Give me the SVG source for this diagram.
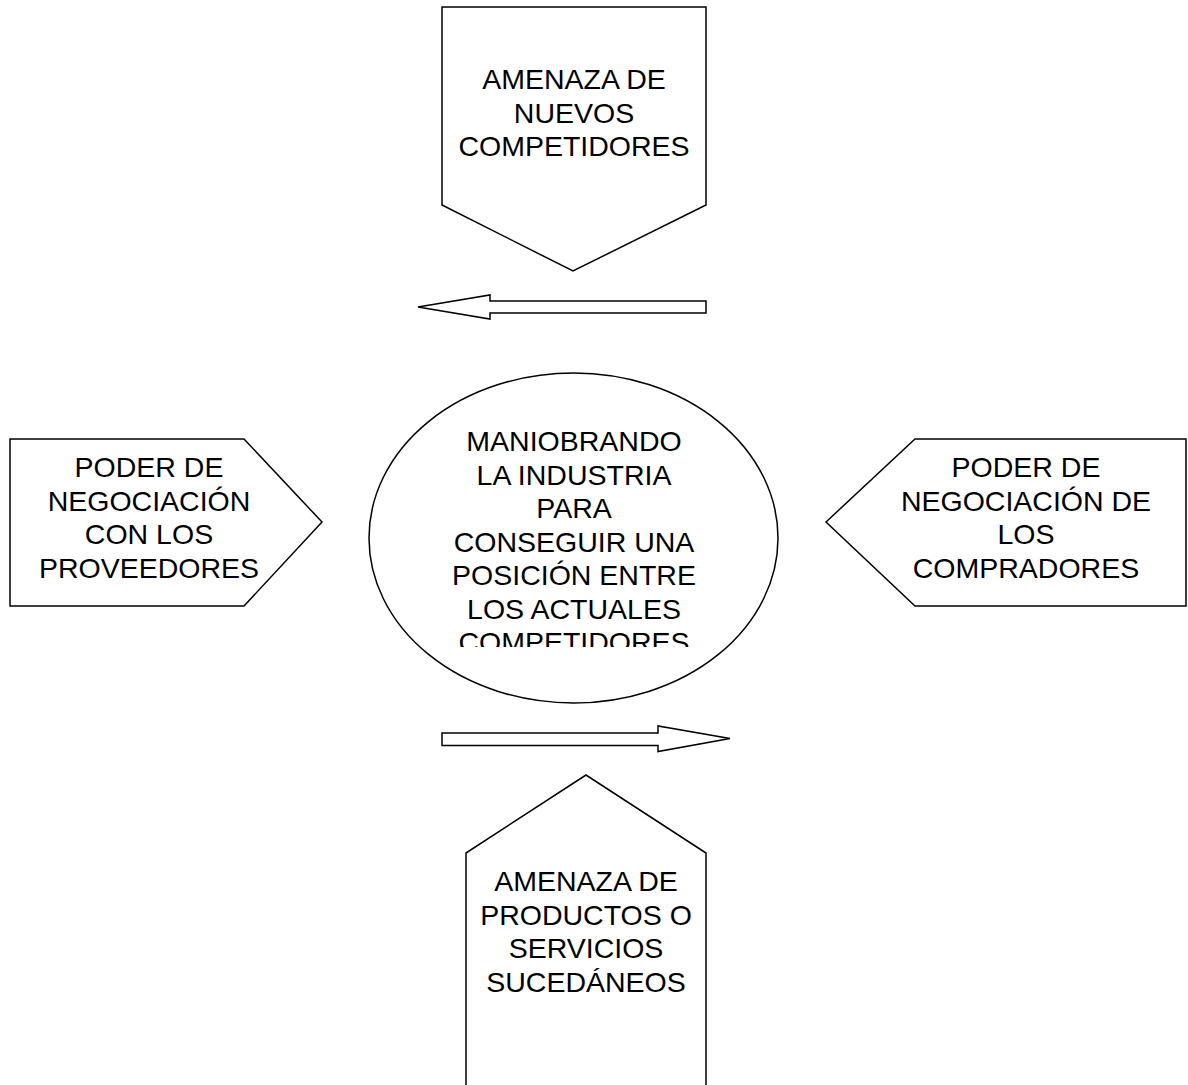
<svg xmlns="http://www.w3.org/2000/svg" width="1188" height="1085" viewBox="0 0 1188 1085">
<style>
.s{fill:#fff;stroke:#000;stroke-width:1.5;stroke-linejoin:miter}
.t{font-family:"Liberation Sans",Arial,sans-serif;font-size:28.5px;fill:#000;text-anchor:middle}
</style>
<defs>
<clipPath id="cc"><rect x="370" y="380" width="410" height="267"/></clipPath>
</defs>
<rect width="1188" height="1085" fill="#fff"/>
<g id="nuevos">
<polygon class="s" points="442,7 706,7 706,205 573,271 442,205"/>
<text class="t" x="574" y="89">AMENAZA DE</text>
<text class="t" x="574" y="122.5">NUEVOS</text>
<text class="t" x="574" y="156">COMPETIDORES</text>
</g>
<g id="proveedores">
<polygon class="s" points="10,439 244,439 322,522 244,606 10,606"/>
<text class="t" x="149" y="477">PODER DE</text>
<text class="t" x="149" y="510.5">NEGOCIACIÓN</text>
<text class="t" x="149" y="544">CON LOS</text>
<text class="t" x="149" y="577.5">PROVEEDORES</text>
</g>
<g id="centro">
<ellipse class="s" cx="573.5" cy="538" rx="204.5" ry="165"/>
<g clip-path="url(#cc)">
<text class="t" x="574" y="451">MANIOBRANDO</text>
<text class="t" x="574" y="484.5">LA INDUSTRIA</text>
<text class="t" x="574" y="518">PARA</text>
<text class="t" x="574" y="551.5">CONSEGUIR UNA</text>
<text class="t" x="574" y="585">POSICIÓN ENTRE</text>
<text class="t" x="574" y="618.5">LOS ACTUALES</text>
<text class="t" x="574" y="652">COMPETIDORES</text>
</g>
</g>
<g id="compradores">
<polygon class="s" points="826,522 915,439 1186,439 1186,606 915,606"/>
<text class="t" x="1026" y="477">PODER DE</text>
<text class="t" x="1026" y="510.5">NEGOCIACIÓN DE</text>
<text class="t" x="1026" y="544">LOS</text>
<text class="t" x="1026" y="577.5">COMPRADORES</text>
</g>
<g id="sucedaneos">
<polygon class="s" points="466,1090 466,853 586,775 706,853 706,1090"/>
<text class="t" x="586" y="891">AMENAZA DE</text>
<text class="t" x="586" y="924.5">PRODUCTOS O</text>
<text class="t" x="586" y="958">SERVICIOS</text>
<text class="t" x="586" y="991.5">SUCEDÁNEOS</text>
</g>
<g id="connectors">
<polygon class="s" points="706,301 490,301 490,295 418,307 490,319 490,313 706,313"/>
<polygon class="s" points="442,733 658,733 658,726 730,738.5 658,751.5 658,745.5 442,745.5"/>
</g>
</svg>
